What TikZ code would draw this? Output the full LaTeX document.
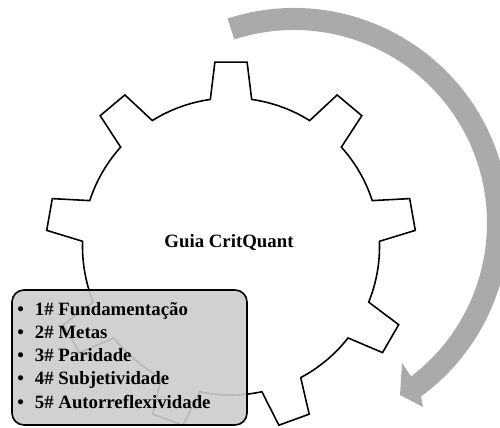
\documentclass[tikz,border=0pt]{standalone}
\usepackage{fontspec}
\setmainfont{Liberation Serif}
\usetikzlibrary{calc}
\definecolor{arrowgray}{RGB}{170,170,170}
\definecolor{boxgray}{RGB}{204,204,204}
\tikzset{
  gearline/.style={draw=black, line width=0.9pt, line join=miter},
  arrowshape/.style={fill=arrowgray},
  listbox/.style={draw=black, line width=0.9pt, fill=boxgray, fill opacity=0.9, rounded corners=2.4mm},
  label/.style={font=\fontsize{10.7}{13.2}\selectfont\bfseries, inner sep=0pt, text=black},
}
\begin{document}
\begin{tikzpicture}[x=0.2mm, y=-0.2mm]
\useasboundingbox (0,0) rectangle (500,428);
% curved arrow
\coordinate (A) at (294,223);
\fill[arrowshape] ($(A)+(-108:215)$) arc[start angle=-108, end angle=53.8, radius=215]
  -- (423,407) -- (400,395) -- (402,363) -- ($(A)+(52.65:193)$)
  arc[start angle=52.65, end angle=-108, radius=193] -- cycle;
% gear
\coordinate (C) at (231,246.5);
\draw[gearline] ($(C)+(-98:148.5)$)
  \foreach \k in {0,...,8}{
    -- ($(C)+({-95+40*\k}:185)$) -- ($(C)+({-85+40*\k}:185)$)
    -- ($(C)+({-82+40*\k}:148.5)$)
    arc[start angle={-82+40*\k}, end angle={-58+40*\k}, radius=148.5]
  } -- cycle;
\node[label, anchor=base] (title) at (229,247.7) {Guia CritQuant};
% list box
\draw[listbox] (12,290) rectangle (247,425);
\foreach \t [count=\i] in {1\# Fundamentação, 2\# Metas, 3\# Paridade, 4\# Subjetividade, 5\# Autorreflexividade}{
  \node[label, anchor=base west] (l\i) at (17,{315+23.3*(\i-1)}) {•\hspace{2.2mm}\t};
}
\end{tikzpicture}
\end{document}
